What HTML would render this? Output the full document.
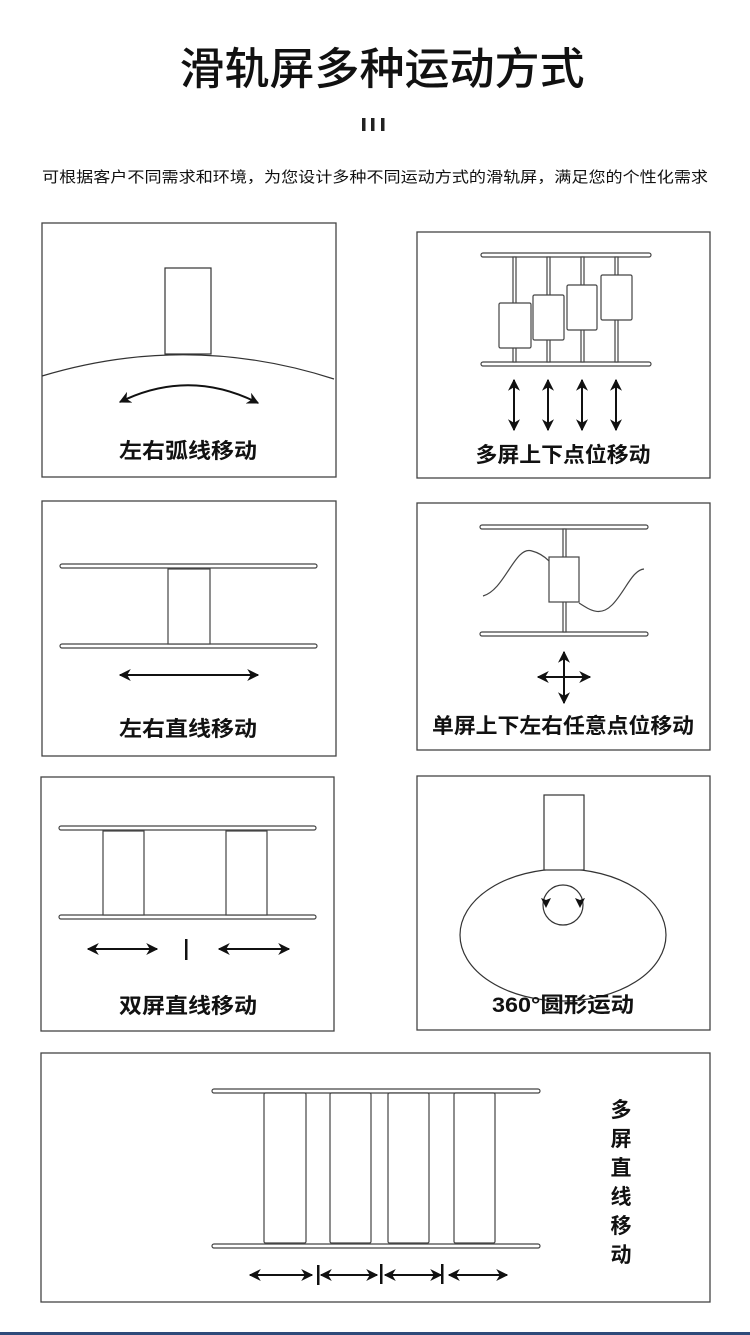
<!DOCTYPE html>
<html><head><meta charset="utf-8"><style>
html,body{margin:0;padding:0;background:#fff;}
svg{display:block;}
text{font-family:"Liberation Sans","Noto Sans CJK SC",sans-serif;fill:#111;}
</style></head><body>
<svg width="750" height="1335" viewBox="0 0 750 1335" xmlns="http://www.w3.org/2000/svg">
<defs>
<marker id="ah" viewBox="0 0 10 10" refX="9" refY="5" markerWidth="12" markerHeight="12" markerUnits="userSpaceOnUse" orient="auto-start-reverse"><path d="M0,0 L10,5 L0,10 L3,5 z" fill="#111"/></marker>
</defs>
<rect width="750" height="1335" fill="#fff"/>
<text x="382" y="84" font-size="44" text-anchor="middle" textLength="405" lengthAdjust="spacingAndGlyphs" font-weight="500">滑轨屏多种运动方式</text>
<g fill="#222"><rect x="362" y="118" width="3.5" height="13"/><rect x="371" y="118" width="3.5" height="13"/><rect x="381" y="118" width="3.5" height="13"/></g>
<text x="42" y="182" font-size="15" textLength="666" lengthAdjust="spacingAndGlyphs" fill="#222">可根据客户不同需求和环境，为您设计多种不同运动方式的滑轨屏，满足您的个性化需求</text>

<g fill="none" stroke="#444" stroke-width="1.3">
<rect x="42" y="223" width="294" height="254"/>
<rect x="417" y="232" width="293" height="246"/>
<rect x="42" y="501" width="294" height="255"/>
<rect x="417" y="503" width="293" height="247"/>
<rect x="41" y="777" width="293" height="254"/>
<rect x="417" y="776" width="293" height="254"/>
<rect x="41" y="1053" width="669" height="249"/>
</g>

<!-- panel 1 -->
<g fill="none" stroke="#333" stroke-width="1.2">
<rect x="165" y="268" width="46" height="86" fill="#fff"/>
<path d="M42,376 Q188,332 334,379"/>
</g>
<path d="M120,402 Q189,368 258,403" fill="none" stroke="#111" stroke-width="2" marker-start="url(#ah)" marker-end="url(#ah)"/>
<text x="188" y="458" font-size="21" text-anchor="middle" font-weight="bold" textLength="138" lengthAdjust="spacingAndGlyphs">左右弧线移动</text>

<!-- panel 2 -->
<g fill="#fff" stroke="#444" stroke-width="1.2">
<rect x="481" y="253" width="170" height="4" rx="2"/>
<rect x="481" y="362" width="170" height="4" rx="2"/>
<rect x="513" y="257" width="3" height="105"/>
<rect x="547" y="257" width="3" height="105"/>
<rect x="581" y="257" width="3" height="105"/>
<rect x="615" y="257" width="3" height="105"/>
<rect x="499" y="303" width="32" height="45" rx="1.5"/>
<rect x="533" y="295" width="31" height="45" rx="1.5"/>
<rect x="567" y="285" width="30" height="45" rx="1.5"/>
<rect x="601" y="275" width="31" height="45" rx="1.5"/>
</g>
<g stroke="#111" stroke-width="2" marker-start="url(#ah)" marker-end="url(#ah)">
<line x1="514" y1="380" x2="514" y2="430"/>
<line x1="548" y1="380" x2="548" y2="430"/>
<line x1="582" y1="380" x2="582" y2="430"/>
<line x1="616" y1="380" x2="616" y2="430"/>
</g>
<text x="563" y="462" font-size="21" text-anchor="middle" font-weight="bold" textLength="175" lengthAdjust="spacingAndGlyphs">多屏上下点位移动</text>

<!-- panel 3 -->
<g fill="#fff" stroke="#444" stroke-width="1.2">
<rect x="60" y="564" width="257" height="4" rx="2"/>
<rect x="60" y="644" width="257" height="4" rx="2"/>
<rect x="168" y="569" width="42" height="75"/>
</g>
<line x1="120" y1="675" x2="258" y2="675" stroke="#111" stroke-width="2" marker-start="url(#ah)" marker-end="url(#ah)"/>
<text x="188" y="736" font-size="21" text-anchor="middle" font-weight="bold" textLength="138" lengthAdjust="spacingAndGlyphs">左右直线移动</text>

<!-- panel 4 -->
<g fill="#fff" stroke="#444" stroke-width="1.2">
<rect x="480" y="525" width="168" height="4" rx="2"/>
<rect x="480" y="632" width="168" height="4" rx="2"/>
<rect x="563" y="529" width="3" height="103"/>
<path d="M483,596 C505,590 515,545 532,551 C540,553 545,557 549,561" fill="none"/>
<path d="M579,603 C590,610 600,617 612,605 C625,592 632,570 644,569" fill="none"/>
<rect x="549" y="557" width="30" height="45"/>
</g>
<g stroke="#111" stroke-width="2" marker-start="url(#ah)" marker-end="url(#ah)">
<line x1="564" y1="652" x2="564" y2="703"/>
<line x1="538" y1="677" x2="590" y2="677"/>
</g>
<text x="563" y="733" font-size="21" text-anchor="middle" font-weight="bold" textLength="262" lengthAdjust="spacingAndGlyphs">单屏上下左右任意点位移动</text>

<!-- panel 5 -->
<g fill="#fff" stroke="#444" stroke-width="1.2">
<rect x="59" y="826" width="257" height="4" rx="2"/>
<rect x="59" y="915" width="257" height="4" rx="2"/>
<rect x="103" y="831" width="41" height="84"/>
<rect x="226" y="831" width="41" height="84"/>
</g>
<g stroke="#111" stroke-width="2" marker-start="url(#ah)" marker-end="url(#ah)">
<line x1="88" y1="949" x2="157" y2="949"/>
<line x1="219" y1="949" x2="289" y2="949"/>
</g>
<rect x="185" y="939" width="2.5" height="21" fill="#111"/>
<text x="188" y="1013" font-size="21" text-anchor="middle" font-weight="bold" textLength="138" lengthAdjust="spacingAndGlyphs">双屏直线移动</text>

<!-- panel 6 -->
<g fill="none" stroke="#333" stroke-width="1.2">
<ellipse cx="563" cy="935" rx="103" ry="66"/>
<rect x="544" y="795" width="40" height="75" fill="#fff"/>
<circle cx="563" cy="905" r="20"/>
</g>
<path d="M541,898 l5,10 l5,-10 l-5,2 z M585,898 l-5,10 l-5,-10 l5,2 z" fill="#111"/>
<text x="563" y="1012" font-size="21" text-anchor="middle" font-weight="bold" textLength="142" lengthAdjust="spacingAndGlyphs">360°圆形运动</text>

<!-- panel 7 -->
<g fill="#fff" stroke="#444" stroke-width="1.2">
<rect x="212" y="1089" width="328" height="4" rx="2"/>
<rect x="212" y="1244" width="328" height="4" rx="2"/>
<rect x="264" y="1093" width="42" height="150" rx="1.5"/>
<rect x="330" y="1093" width="41" height="150" rx="1.5"/>
<rect x="388" y="1093" width="41" height="150" rx="1.5"/>
<rect x="454" y="1093" width="41" height="150" rx="1.5"/>
</g>
<g stroke="#111" stroke-width="2" marker-start="url(#ah)" marker-end="url(#ah)">
<line x1="250" y1="1275" x2="312" y2="1275"/>
<line x1="321" y1="1275" x2="377" y2="1275"/>
<line x1="385" y1="1275" x2="441" y2="1275"/>
<line x1="449" y1="1275" x2="507" y2="1275"/>
</g>
<g fill="#111"><rect x="317" y="1265" width="2.5" height="20"/><rect x="380" y="1264" width="2.5" height="20"/><rect x="441" y="1264" width="2.5" height="20"/></g>
<g font-size="21" font-weight="bold" text-anchor="middle">
<text x="621" y="1117">多</text>
<text x="621" y="1146">屏</text>
<text x="621" y="1175">直</text>
<text x="621" y="1204">线</text>
<text x="621" y="1233">移</text>
<text x="621" y="1262">动</text>
</g>
<rect x="0" y="1332" width="750" height="3" fill="#2f4a7a"/>
</svg>
</body></html>
